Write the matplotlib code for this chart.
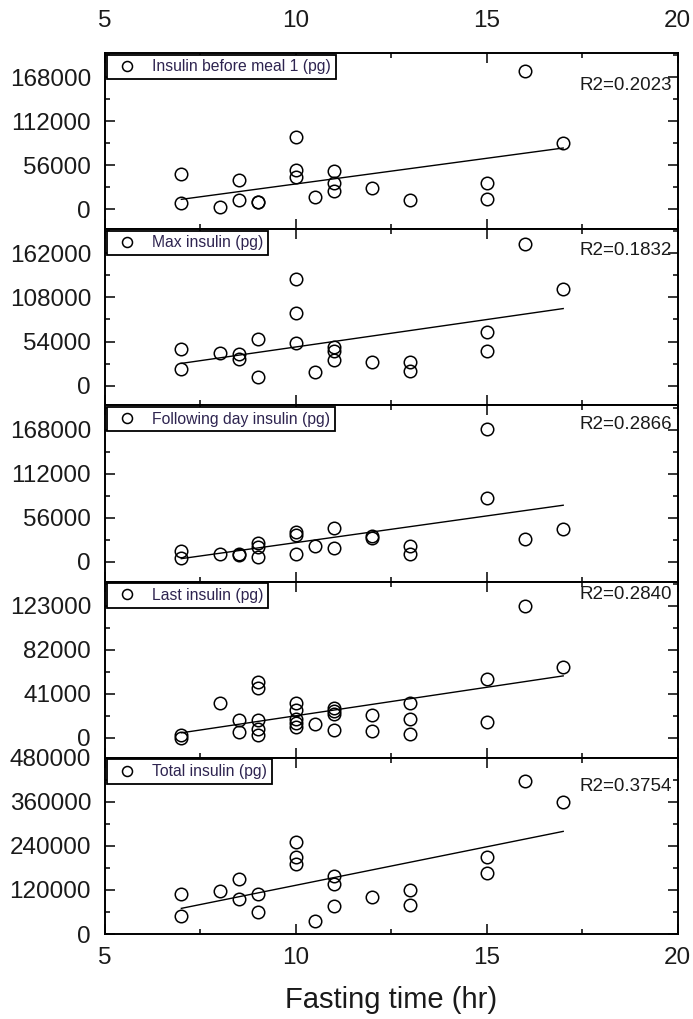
import matplotlib
matplotlib.use("Agg")
import matplotlib.pyplot as plt
from matplotlib.ticker import MultipleLocator

plt.rcParams['font.family'] = ['Liberation Sans', 'DejaVu Sans']

# fasting time (hr) and insulin values, one pair of lists per panel
x_before = [7, 7, 8, 8.5, 8.5, 9, 9, 10, 10, 10, 10.5, 11, 11, 11, 12, 13, 15, 15, 16, 17]
y_before = [44600, 7700, 3400, 37400, 11900, 8900, 9800, 91800, 50200, 40800, 16200,
            48900, 34000, 23800, 26800, 11900, 33200, 12800, 175600, 85000]

x_max = [7, 7, 8, 8.5, 8.5, 9, 9, 10, 10, 10, 10.5, 11, 11, 11, 12, 13, 13, 15, 15, 16, 17]
y_max = [44400, 20400, 40400, 39200, 32000, 57200, 10400, 130400, 89200, 52400, 16400,
         47200, 42000, 31200, 29200, 29200, 18400, 65200, 42400, 173200, 118000]

x_follow = [7, 7, 8, 8.5, 8.5, 9, 9, 9, 10, 10, 10, 10.5, 11, 11, 12, 12, 13, 13, 15, 15, 16, 17]
y_follow = [13300, 5200, 10500, 10500, 8100, 23400, 19400, 6500, 37500, 33500, 10500,
            20600, 42400, 17400, 32300, 30300, 20200, 9300, 168800, 81200, 29500, 41600]

x_last = [7, 7, 8, 8.5, 8.5, 9, 9, 9, 9, 9, 10, 10, 10, 10, 10, 10.5, 11, 11, 11, 11,
          12, 12, 13, 13, 13, 15, 15, 16, 17]
y_last = [2400, 0, 32300, 16800, 5400, 51800, 46700, 16800, 8400, 3000, 32900, 26300,
          17400, 13800, 9900, 12900, 27800, 25400, 22700, 7800, 21800, 6300, 32300,
          18000, 3300, 54800, 15000, 123000, 65800]

x_total = [7, 7, 8, 8.5, 8.5, 9, 9, 10, 10, 10, 10.5, 11, 11, 11, 12, 13, 13, 15, 15, 16, 17]
y_total = [109000, 49400, 118400, 151000, 95000, 109000, 60600, 251600, 209700, 191000,
           35400, 158400, 135100, 77400, 100700, 121200, 79200, 209700, 165900, 417500, 358800]

# regression lines as drawn (value at x=7 and x=17)
fit_x = [7, 17]
fit_before = [12750, 78000]
fit_max = [27200, 94400]
fit_follow = [4000, 71900]
fit_last = [4800, 57800]
fit_total = [69900, 279600]

series_names = ["Insulin before meal 1 (pg)", "Max insulin (pg)", "Following day insulin (pg)",
                "Last insulin (pg)", "Total insulin (pg)"]
r2_labels = ["R2=0.2023", "R2=0.1832", "R2=0.2866", "R2=0.2840", "R2=0.3754"]
y_steps = [56000, 54000, 56000, 41000, 120000]

xs = [x_before, x_max, x_follow, x_last, x_total]
ys = [y_before, y_max, y_follow, y_last, y_total]
fits = [fit_before, fit_max, fit_follow, fit_last, fit_total]
r2_ypos = [0.815, 0.88, 0.89, 0.926, 0.835]

fig = plt.figure(figsize=(6.93, 10.19), dpi=100)
gs = fig.add_gridspec(5, 1, left=0.1515, right=0.978, bottom=0.0834, top=0.948, hspace=0)
tick_color = '#1a1a1a'

for i in range(5):
    ax = fig.add_subplot(gs[i])
    ax.plot(xs[i], ys[i], linestyle='none', marker='o', markersize=9, markerfacecolor='none',
            markeredgecolor='black', markeredgewidth=1.1, label=series_names[i])
    ax.plot(fit_x, fits[i], color='black', linewidth=1.0)

    step = y_steps[i]
    if i < 4:
        ax.set_ylim(-0.45 * step, 3.55 * step)
    else:
        ax.set_ylim(0, 4 * step)
    ax.set_xlim(5, 20)

    ax.yaxis.set_major_locator(MultipleLocator(step))
    ax.yaxis.set_minor_locator(MultipleLocator(step / 2))
    ax.xaxis.set_major_locator(MultipleLocator(5))
    ax.xaxis.set_minor_locator(MultipleLocator(2.5))

    ax.tick_params(which='both', direction='in', top=True, right=True, width=1.1,
                   colors='black', labelcolor=tick_color)
    ax.tick_params(which='major', length=7)
    ax.tick_params(which='minor', length=3.5)
    ax.tick_params(axis='y', labelsize=17.5, pad=10)
    ax.tick_params(axis='x', labelsize=17.5)

    if i == 0:
        ax.tick_params(axis='x', labeltop=True, labelbottom=False, pad=15)
    elif i == 4:
        ax.tick_params(axis='x', labeltop=False, labelbottom=True, pad=9)
    else:
        ax.tick_params(axis='x', labeltop=False, labelbottom=False)

    for spine in ax.spines.values():
        spine.set_linewidth(1.4)
        spine.set_color('black')

    leg = ax.legend(loc='upper left', fontsize=11.3, frameon=True, fancybox=False,
                    edgecolor='black', framealpha=1, borderaxespad=0.1, borderpad=0.3,
                    handletextpad=0.6, markerscale=0.8, labelcolor='#2e2450')
    leg.get_frame().set_linewidth(1.3)

    ax.text(0.99, r2_ypos[i], r2_labels[i], transform=ax.transAxes, ha='right', va='center',
            fontsize=13.5, color=tick_color)

fig.text(0.5 * (0.1515 + 0.978), 0.0186, "Fasting time (hr)", ha='center', va='center',
         fontsize=21, color=tick_color)

fig.savefig("out.png", dpi=100)
